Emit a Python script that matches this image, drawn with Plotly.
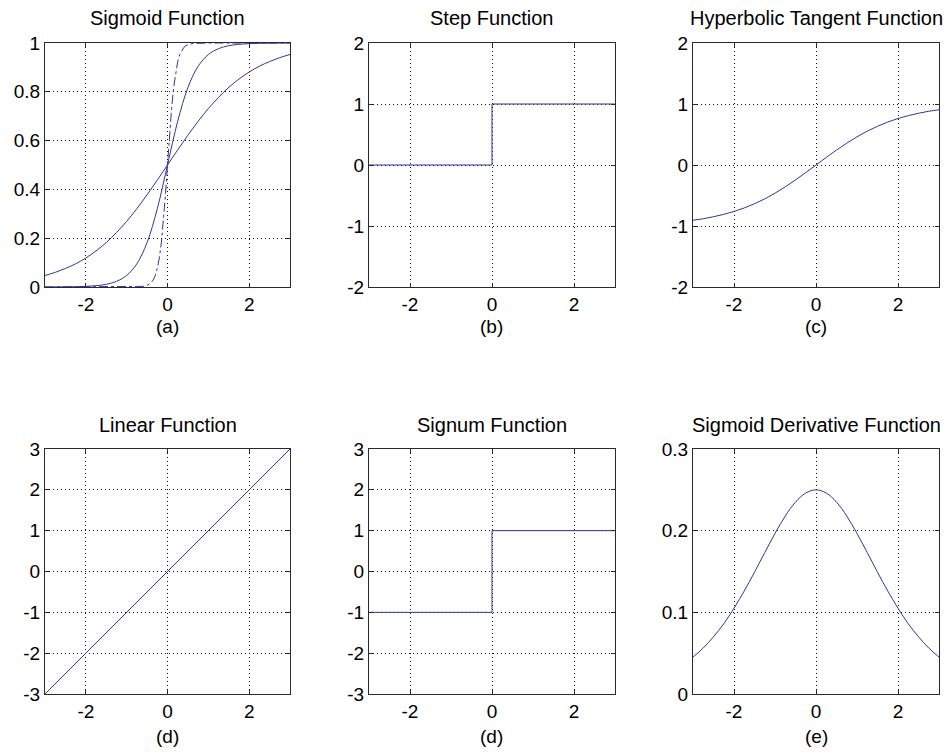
import plotly.graph_objects as go

# ---------------- data ----------------
x_q = [-3, -2.75, -2.5, -2.25, -2, -1.75, -1.5, -1.25, -1, -0.75, -0.5, -0.25, 0,
       0.25, 0.5, 0.75, 1, 1.25, 1.5, 1.75, 2, 2.25, 2.5, 2.75, 3]

sig_gentle = [0.047, 0.060, 0.076, 0.095, 0.119, 0.148, 0.182, 0.223, 0.269, 0.321, 0.378, 0.438, 0.5,
              0.562, 0.622, 0.679, 0.731, 0.777, 0.818, 0.852, 0.881, 0.905, 0.924, 0.940, 0.953]
sig_mid = [0.0001, 0.0003, 0.0006, 0.0012, 0.0025, 0.0052, 0.0110, 0.0230, 0.0474, 0.0953, 0.1824, 0.3208, 0.5,
           0.6792, 0.8176, 0.9047, 0.9526, 0.9770, 0.9890, 0.9948, 0.9975, 0.9988, 0.9994, 0.9997, 0.9999]

x_steep = [-3, -2, -1, -0.6, -0.5, -0.45, -0.4, -0.35, -0.3, -0.25, -0.2, -0.15, -0.1, -0.05, 0,
           0.05, 0.1, 0.15, 0.2, 0.25, 0.3, 0.35, 0.4, 0.45, 0.5, 0.6, 1, 2, 3]
sig_steep = [0.0, 0.0, 0.0, 0.0025, 0.0067, 0.011, 0.018, 0.029, 0.047, 0.076, 0.119, 0.182, 0.269, 0.378, 0.5,
             0.622, 0.731, 0.818, 0.881, 0.924, 0.953, 0.971, 0.982, 0.989, 0.993, 0.9975, 1.0, 1.0, 1.0]

x_step = [-3, 0, 0, 3]
y_step = [0, 0, 1, 1]

tanh_vals = [-0.905, -0.881, -0.848, -0.809, -0.762, -0.704, -0.635, -0.555, -0.462, -0.358, -0.245, -0.124, 0.0,
             0.124, 0.245, 0.358, 0.462, 0.555, 0.635, 0.704, 0.762, 0.809, 0.848, 0.881, 0.905]

x_lin = [-3, 3]
y_lin = [-3, 3]

x_sgn = [-3, 0, 0, 3]
y_sgn = [-1, -1, 1, 1]

deriv_vals = [0.0452, 0.0563, 0.0701, 0.0860, 0.1050, 0.1262, 0.1491, 0.1731, 0.1966, 0.2179, 0.2350, 0.2461, 0.25,
              0.2461, 0.2350, 0.2179, 0.1966, 0.1731, 0.1491, 0.1262, 0.1050, 0.0860, 0.0701, 0.0563, 0.0452]

titles = ["Sigmoid Function", "Step Function", "Hyperbolic Tangent Function",
          "Linear Function", "Signum Function", "Sigmoid Derivative Function"]
sublabels = ["(a)", "(b)", "(c)", "(d)", "(d)", "(e)"]

x_ticks = [-2, 0, 2]
x_ticktext = ["-2", "0", "2"]
y_ticks = [
    [0, 0.2, 0.4, 0.6, 0.8, 1],
    [-2, -1, 0, 1, 2],
    [-2, -1, 0, 1, 2],
    [-3, -2, -1, 0, 1, 2, 3],
    [-3, -2, -1, 0, 1, 2, 3],
    [0, 0.1, 0.2, 0.3],
]
y_ticktext = [
    ["0", "0.2", "0.4", "0.6", "0.8", "1"],
    ["-2", "-1", "0", "1", "2"],
    ["-2", "-1", "0", "1", "2"],
    ["-3", "-2", "-1", "0", "1", "2", "3"],
    ["-3", "-2", "-1", "0", "1", "2", "3"],
    ["0", "0.1", "0.2", "0.3"],
]
y_ranges = [[0, 1], [-2, 2], [-2, 2], [-3, 3], [-3, 3], [0, 0.3]]

# ---------------- layout geometry (page pixels) ----------------
OFF = 8                      # page body margin
W, H = 951 - OFF, 752 - OFF  # figure size so the page fits the window
col_px = [(45, 290), (369, 615), (693, 939)]
row_px = [(43, 287), (449, 694)]
title_gap = [25, 24]
label_gap = [39, 42]

LINE = "#34349c"
FONT = "Liberation Sans, Arial, sans-serif"

def fx(p):
    return (p - OFF) / W

def fy(p):
    return 1 - (p - OFF) / H

fig = go.Figure()

def add(trace, idx):
    n = "" if idx == 1 else str(idx)
    trace.update(xaxis="x" + n, yaxis="y" + n)
    fig.add_trace(trace)

add(go.Scatter(x=x_q, y=sig_gentle, mode="lines", line=dict(color=LINE, width=1, shape="spline")), 1)
add(go.Scatter(x=x_q, y=sig_mid, mode="lines", line=dict(color=LINE, width=1, shape="spline")), 1)
add(go.Scatter(x=x_steep, y=sig_steep, mode="lines", line=dict(color=LINE, width=1, dash="dashdot")), 1)
add(go.Scatter(x=x_step, y=y_step, mode="lines", line=dict(color=LINE, width=1)), 2)
add(go.Scatter(x=x_q, y=tanh_vals, mode="lines", line=dict(color=LINE, width=1, shape="spline")), 3)
add(go.Scatter(x=x_lin, y=y_lin, mode="lines", line=dict(color=LINE, width=1)), 4)
add(go.Scatter(x=x_sgn, y=y_sgn, mode="lines", line=dict(color=LINE, width=1)), 5)
add(go.Scatter(x=x_q, y=deriv_vals, mode="lines", line=dict(color=LINE, width=1, shape="spline")), 6)

layout = dict(
    width=W, height=H, showlegend=False, autosize=False,
    margin=dict(l=0, r=0, t=0, b=0, pad=0, autoexpand=False),
    paper_bgcolor="white", plot_bgcolor="white",
    font=dict(family=FONT, size=19, color="black"),
    annotations=[],
)

axis_common = dict(
    showline=True, mirror="ticks", linecolor="#2a2a2a", linewidth=1,
    ticks="inside", ticklen=4, tickcolor="#2a2a2a",
    showgrid=True, gridcolor="#111111", gridwidth=1, griddash="1px,3px",
    zeroline=False, tickfont=dict(family=FONT, size=19, color="black"),
    fixedrange=True, automargin=False,
)

for i in range(6):
    r, c = divmod(i, 3)
    x0, x1 = col_px[c]
    yt, yb = row_px[r]
    n = "" if i == 0 else str(i + 1)
    layout["xaxis" + n] = dict(
        axis_common, domain=[fx(x0), fx(x1)], range=[-3, 3],
        tickvals=x_ticks, ticktext=x_ticktext, anchor="y" + n,
    )
    layout["yaxis" + n] = dict(
        axis_common, domain=[fy(yb), fy(yt)], range=y_ranges[i],
        tickvals=y_ticks[i], ticktext=y_ticktext[i], anchor="x" + n,
    )
    cx = fx((x0 + x1) / 2)
    layout["annotations"].append(dict(
        text=titles[i], x=cx, y=fy(yt - title_gap[r]), xref="paper", yref="paper",
        xanchor="center", yanchor="middle", showarrow=False,
        font=dict(family=FONT, size=20, color="black"),
    ))
    layout["annotations"].append(dict(
        text=sublabels[i], x=cx, y=fy(yb + label_gap[r]), xref="paper", yref="paper",
        xanchor="center", yanchor="middle", showarrow=False,
        font=dict(family=FONT, size=19, color="black"),
    ))

fig.update_layout(**layout)
fig.write_html("out.html")
